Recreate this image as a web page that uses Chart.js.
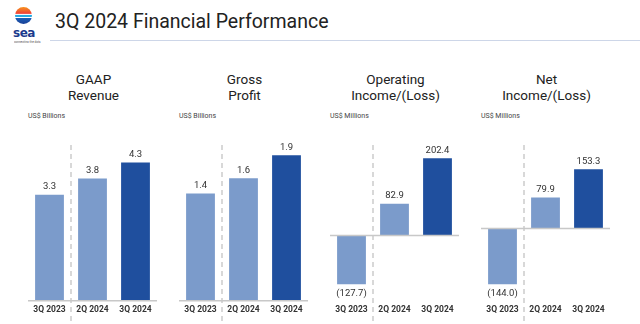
<!DOCTYPE html>
<html>
<head>
<meta charset="utf-8">
<script src="https://cdn.jsdelivr.net/npm/chart.js@4.4.1/dist/chart.umd.min.js"></script>
<style>
  body { margin:0; width:640px; height:324px; background:#fff; position:relative; overflow:hidden;
         font-family: Roboto, "Open Sans", "Liberation Sans", sans-serif; color:#222; }
  #logo { position:absolute; left:15px; top:7px; width:17px; height:17px; border-radius:50%;
          background: linear-gradient(#f7941d 0%, #ef4136 38%, #fff 40%, #fff 44%, #27aae1 46%, #27aae1 58%, #fff 60%, #fff 63%, #1c5fb8 65%, #1a3f95 100%); }
  #logoText { position:absolute; left:13px; top:26px; width:22px; text-align:center; font:bold 12px "DejaVu Sans", sans-serif; color:#1b3a8c; letter-spacing:-0.5px; }
  #tag { position:absolute; left:4px; top:40px; width:40px; text-align:center; font-size:6px; line-height:6px; color:#555;
         white-space:nowrap; transform:scale(0.5); transform-origin:50% 0; }
  #title { position:absolute; left:55px; top:9px; font-size:19.5px; line-height:26px; color:#222; white-space:nowrap; }
  #rule { position:absolute; left:50px; top:40px; width:590px; height:1px; background:#cdd6e8; }
  .ptitle { position:absolute; top:71px; width:160px; text-align:center; font-size:13.5px; line-height:16px; color:#222; }
  .unit { position:absolute; top:111px; font-size:7px; line-height:10px; color:#444; white-space:nowrap; }
  .box { position:absolute; top:130px; width:129px; height:194px; }
</style>
</head>
<body>
<div id="logo"></div>
<div id="logoText">sea</div>
<div id="tag">connecting the dots</div>
<div id="title">3Q 2024 Financial Performance</div>
<div id="rule"></div>
<div id="panels"></div>
<script>
const quarters = ["3Q 2023", "2Q 2024", "3Q 2024"];
const revenue = [3.3, 3.8, 4.3];
const grossProfit = [1.4, 1.6, 1.9];
const opIncome = [-127.7, 82.9, 202.4];
const netIncome = [-144.0, 79.9, 153.3];
const panelTitles = [["GAAP", "Revenue"], ["Gross", "Profit"], ["Operating", "Income/(Loss)"], ["Net", "Income/(Loss)"]];
const units = ["US$ Billions", "US$ Billions", "US$ Millions", "US$ Millions"];
const barColors = ["#7b9bcb", "#7b9bcb", "#1f4f9e"];

// layout of the four panels (chart area left edge, scale range)
const panels = [
  { data: revenue, left: 28, min: 0, max: 5.0 },
  { data: grossProfit, left: 179, min: 0, max: 2.1 },
  { data: opIncome, left: 330, min: -171, max: 250 },
  { data: netIncome, left: 481, min: -187, max: 228.6 }
];

const fmt = v => v < 0 ? "(" + Math.abs(v).toFixed(1) + ")" : v.toFixed(1);

const decor = {
  id: "decor",
  beforeDatasetsDraw(chart) {
    const ctx = chart.ctx, x = chart.scales.x, a = chart.chartArea;
    ctx.save();
    // dashed divider between the year-ago quarter and the rest
    const dx = (x.getPixelForValue(0) + x.getPixelForValue(1)) / 2;
    ctx.strokeStyle = "#cccccc";
    ctx.lineWidth = 1.5;
    ctx.setLineDash([5, 4]);
    ctx.beginPath();
    ctx.moveTo(dx, a.top + 5);
    ctx.lineTo(dx, chart.height - 2);
    ctx.stroke();
    ctx.restore();
  },
  afterDatasetsDraw(chart) {
    const ctx = chart.ctx, y = chart.scales.y, a = chart.chartArea;
    const zy = y.getPixelForValue(0);
    ctx.save();
    ctx.strokeStyle = "#c8c8c8";
    ctx.lineWidth = 1.5;
    ctx.beginPath();
    ctx.moveTo(a.left, zy);
    ctx.lineTo(a.right, zy);
    ctx.stroke();
    ctx.fillStyle = "#333";
    ctx.font = "9.5px Roboto, 'Open Sans', sans-serif";
    ctx.textAlign = "center";
    ctx.textBaseline = "middle";
    const vals = chart.data.datasets[0].data;
    chart.getDatasetMeta(0).data.forEach((bar, i) => {
      const v = vals[i];
      ctx.fillText(fmt(v), bar.x, v >= 0 ? bar.y - 8 : bar.y + 9);
    });
    ctx.restore();
  }
};

const holder = document.getElementById("panels");
panels.forEach((p, k) => {
  const t = document.createElement("div");
  t.className = "ptitle";
  t.style.left = (p.left + 64.5 + 1 - 80) + "px";
  t.innerHTML = panelTitles[k].join("<br>");
  holder.appendChild(t);

  const u = document.createElement("div");
  u.className = "unit";
  u.style.left = p.left + "px";
  u.textContent = units[k];
  holder.appendChild(u);

  const box = document.createElement("div");
  box.className = "box";
  box.style.left = p.left + "px";
  const cv = document.createElement("canvas");
  box.appendChild(cv);
  holder.appendChild(box);

  new Chart(cv, {
    type: "bar",
    data: {
      labels: quarters,
      datasets: [{ data: p.data, backgroundColor: barColors, borderWidth: 0,
                   barPercentage: 0.67, categoryPercentage: 1 }]
    },
    options: {
      responsive: true,
      maintainAspectRatio: false,
      animation: false,
      layout: { padding: { top: 10, bottom: 5, left: 0, right: 0 } },
      plugins: { legend: { display: false }, tooltip: { enabled: false } },
      scales: {
        x: {
          grid: { display: false, drawTicks: false },
          border: { display: false },
          ticks: { padding: 4, color: "#333", font: { family: "Roboto, 'Open Sans', sans-serif", size: 8.5, weight: "bold" } }
        },
        y: { display: false, min: p.min, max: p.max }
      }
    },
    plugins: [decor]
  });
});
</script>
</body>
</html>
